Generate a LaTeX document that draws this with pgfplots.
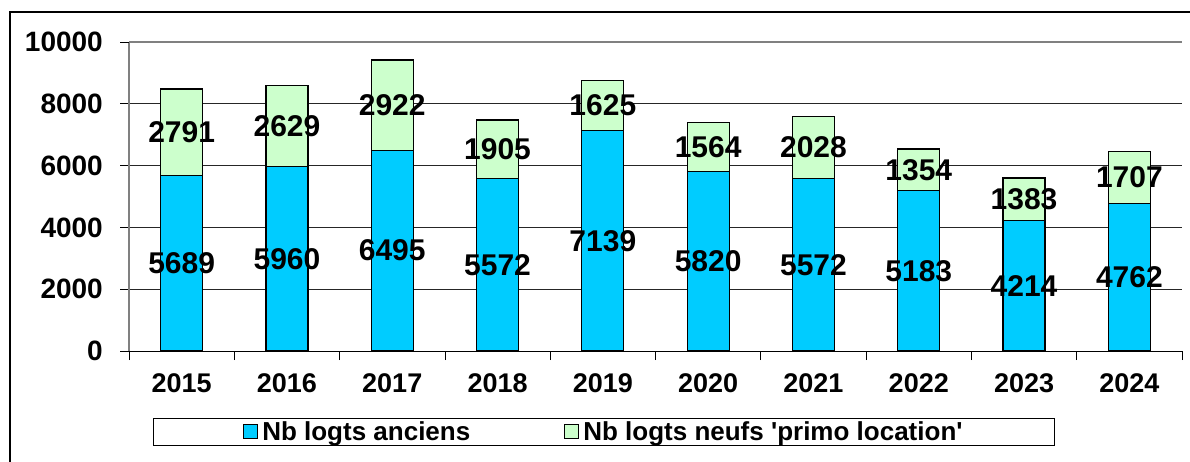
\documentclass[border=0pt]{standalone}
\usepackage{pgfplots}
\pgfplotsset{compat=1.18}
\usepackage{pgfplotstable}
\usepackage{fontspec}
\setmainfont{Liberation Sans}
\definecolor{ancien}{HTML}{00CCFF}
\definecolor{neuf}{HTML}{CCFFCC}

\pgfplotstableread{
i year anc neuf
0 2015 5689 2791
1 2016 5960 2629
2 2017 6495 2922
3 2018 5572 1905
4 2019 7139 1625
5 2020 5820 1564
6 2021 5572 2028
7 2022 5183 1354
8 2023 4214 1383
9 2024 4762 1707
}\logts

\begin{document}
\begin{tikzpicture}
\path[use as bounding box] (0,0) rectangle (1190pt,-461pt);
\draw[line width=1.3pt] (10pt,-480pt) -- (10pt,-12pt) -- (1200pt,-12pt);
\begin{axis}[
  at={(129pt,-351pt)}, anchor=south west,
  scale only axis, width=1053pt, height=309pt,
  ybar stacked, bar width=42pt,
  xmin=-0.5, xmax=9.5, ymin=0, ymax=10000,
  scaled y ticks=false,
  axis x line*=bottom, axis y line*=left,
  x axis line style={-, black, line width=1pt},
  y axis line style={-, black!50, line width=1.2pt},
  ymajorgrids, grid style={black!85, line width=0.8pt},
  ytick={0,2000,...,8000}, yticklabels={0,2000,4000,6000,8000},
  extra y ticks={10000}, extra y tick labels={10000},
  extra y tick style={grid style={black!50, line width=1.4pt}},
  tick align=outside, major tick length=9pt, tick style={black, line width=0.8pt},
  yticklabel style={anchor=east, inner sep=0pt, xshift=-17pt, font=\fontsize{28}{30}\selectfont\bfseries},
  xtick={-0.5,0.5,...,9.5}, xticklabels={},
  extra x ticks={0,...,9}, extra x tick labels={2015,2016,2017,2018,2019,2020,2021,2022,2023,2024},
  extra x tick style={grid=none, major tick length=0pt},
  xticklabel style={anchor=center, yshift=-32pt, font=\fontsize{27}{29}\selectfont\bfseries},
  every node near coord/.append style={anchor=center, text=black, font=\fontsize{30}{32}\selectfont\bfseries},
  legend style={at={(axis description cs:0.451,-0.262)}, anchor=center, legend columns=2,
    draw=black, line width=1pt, inner xsep=90pt, inner ysep=1pt,
    font=\fontsize{26}{28}\selectfont\bfseries,
    /tikz/every even column/.append style={column sep=92pt}},
  legend image code/.code={\draw[#1, line width=1pt] (0pt,-7pt) rectangle (14pt,7pt);},
]
\addplot[forget plot, fill=ancien, draw=black, line width=1.2pt,
  visualization depends on={\thisrow{anc}\as\rawy},
  nodes near coords={\pgfmathprintnumber[fixed,precision=0,1000 sep={},assume math mode=true]{\rawy}}]
  table[x=i, y=anc]{\logts};
\addplot[forget plot, fill=neuf, draw=black, line width=1.2pt,
  visualization depends on={\thisrow{neuf}\as\rawy},
  nodes near coords={\pgfmathprintnumber[fixed,precision=0,1000 sep={},assume math mode=true]{\rawy}}]
  table[x=i, y=neuf]{\logts};
\addlegendimage{fill=ancien, draw=black}
\addlegendentry{\hspace{2pt}Nb logts anciens}
\addlegendimage{fill=neuf, draw=black}
\addlegendentry{\hspace{2pt}Nb logts neufs \textquotesingle primo location\textquotesingle}
\end{axis}
\end{tikzpicture}
\end{document}
